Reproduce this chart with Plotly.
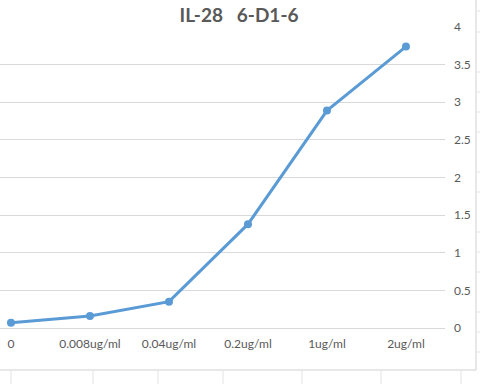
import plotly.graph_objects as go

categories = ["0", "0.008ug/ml", "0.04ug/ml", "0.2ug/ml", "1ug/ml", "2ug/ml"]
values = [0.07, 0.16, 0.35, 1.38, 2.89, 3.74]
title_text = "IL-28\u00a0\u00a0\u00a06-D1-6"

W, H = 480, 384
fig = go.Figure()
fig.add_trace(go.Scatter(
    x=list(range(len(categories))), y=values,
    mode="lines+markers",
    line=dict(color="#5B9BD5", width=3),
    marker=dict(color="#5B9BD5", size=8),
    hoverinfo="skip",
))

font_family = "Lato, Open Sans, sans-serif"
fig.update_layout(
    width=W, height=H,
    margin=dict(l=0, r=35, t=27, b=56),
    paper_bgcolor="white", plot_bgcolor="white",
    showlegend=False,
    title=dict(text=title_text, x=0.498, xanchor="center", y=1 - 15 / H, yanchor="middle",
               font=dict(family=font_family, size=19, color="#595959", weight="bold")),
    xaxis=dict(
        tickmode="array", tickvals=list(range(len(categories))), ticktext=categories,
        range=[-0.139, 5.494], showgrid=False, zeroline=False, showline=False,
        ticks="", ticklabelstandoff=7,
        tickfont=dict(family=font_family, size=12, color="#595959"),
    ),
    yaxis=dict(
        range=[0, 4], dtick=0.5, side="right", showgrid=True, gridcolor="#D9D9D9", gridwidth=1,
        zeroline=True, zerolinecolor="#D9D9D9", zerolinewidth=1, showline=False,
        ticks="", ticklabelstandoff=8,
        tickfont=dict(family=font_family, size=12, color="#595959"),
    ),
)

# chart frame and surrounding spreadsheet cells
shapes = []
shapes.append(dict(type="line", xref="paper", yref="paper", x0=0, x1=476 / 445,
                   y0=(328 - 370) / 301, y1=(328 - 370) / 301, line=dict(color="#D0D0D0", width=1)))
shapes.append(dict(type="line", xref="paper", yref="paper", x0=476 / 445, x1=476 / 445,
                   y0=(328 - 370) / 301, y1=(328 + 0) / 301 + 0.2, line=dict(color="#D0D0D0", width=1)))
for px in [11, 93, 158, 223, 302, 381, 461]:
    shapes.append(dict(type="line", xref="paper", yref="paper", x0=px / 445, x1=px / 445,
                       y0=(328 - 384) / 301, y1=(328 - 371) / 301, line=dict(color="#E3E3E3", width=1)))
for py in [11, 32, 72, 92, 112, 132, 172, 192, 232, 252, 272, 312, 332, 352]:
    shapes.append(dict(type="line", xref="paper", yref="paper", x0=477 / 445, x1=480 / 445,
                       y0=(328 - py) / 301, y1=(328 - py) / 301, line=dict(color="#E3E3E3", width=1)))
fig.update_layout(shapes=shapes)

fig.write_html("out.html", config={"displayModeBar": False},
               post_script="document.body.style.margin='0';document.body.style.overflow='hidden';")
